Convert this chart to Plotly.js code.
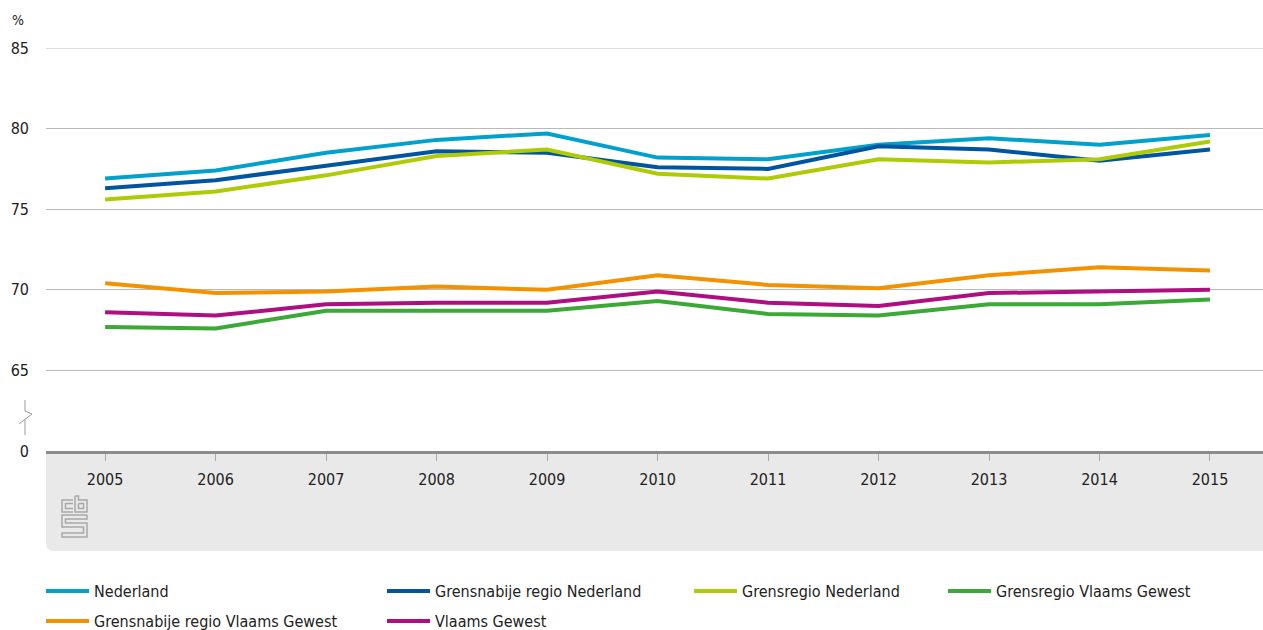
<!DOCTYPE html>
<html>
<head>
<meta charset="utf-8">
<script src="https://cdn.plot.ly/plotly-3.0.1.min.js"></script>
<style>
html,body{margin:0;padding:0;background:#fff;}
#chart{width:1263px;height:630px;}
</style>
</head>
<body>
<div id="chart"></div>
<script>
// ---- data ----
const years = [2005, 2006, 2007, 2008, 2009, 2010, 2011, 2012, 2013, 2014, 2015];
const nederland = [76.9, 77.4, 78.5, 79.3, 79.7, 78.2, 78.1, 79.0, 79.4, 79.0, 79.6];
const grensnabijeNL = [76.3, 76.8, 77.7, 78.6, 78.5, 77.6, 77.5, 78.9, 78.7, 78.0, 78.7];
const grensregioNL = [75.6, 76.1, 77.1, 78.3, 78.7, 77.2, 76.9, 78.1, 77.9, 78.1, 79.2];
const grensregioVG = [67.7, 67.6, 68.7, 68.7, 68.7, 69.3, 68.5, 68.4, 69.1, 69.1, 69.4];
const grensnabijeVG = [70.4, 69.8, 69.9, 70.2, 70.0, 70.9, 70.3, 70.1, 70.9, 71.4, 71.2];
const vlaamsGewest = [68.6, 68.4, 69.1, 69.2, 69.2, 69.9, 69.2, 69.0, 69.8, 69.9, 70.0];
const yTickVals = [60, 65, 70, 75, 80, 85];
const yTickText = ['0', '65', '70', '75', '80', '85'];

const FONT = 'DejaVu Sans Condensed, Liberation Sans Narrow, Open Sans, sans-serif';

// geometry helpers (plot area in pixels)
const L = 46, R = 1263, T = 48, B = 451;
const W = R - L, H = B - T;
const px = x => (x - L) / W;
const py = y => (B - y) / H;
function path(pts) {
  return pts.map((p, i) => (i ? 'L' : 'M') + px(p[0]).toFixed(5) + ',' + py(p[1]).toFixed(5)).join(' ');
}

const series = [
  {name: 'Nederland', y: nederland, color: '#00a1cd', legend: 'legend'},
  {name: 'Grensnabije regio Nederland', y: grensnabijeNL, color: '#0055a0', legend: 'legend2'},
  {name: 'Grensregio Nederland', y: grensregioNL, color: '#afcb05', legend: 'legend3'},
  {name: 'Grensregio Vlaams Gewest', y: grensregioVG, color: '#3aa935', legend: 'legend4'},
  {name: 'Grensnabije regio Vlaams Gewest', y: grensnabijeVG, color: '#f39200', legend: 'legend5'},
  {name: 'Vlaams Gewest', y: vlaamsGewest, color: '#af0e80', legend: 'legend6'}
];

const traces = series.map(s => ({
  type: 'scatter', mode: 'lines', x: years, y: s.y, name: s.name,
  legend: s.legend,
  line: {color: s.color, width: 4},
  hoverinfo: 'x+y+name'
}));

// legend positions (pixel): symbol start x, row center y
const legendPos = {
  legend: [46, 591], legend2: [387, 591], legend3: [694, 591], legend4: [948, 591],
  legend5: [46, 621], legend6: [387, 621]
};

const r = 8;
const shapes = [
  // gray band under the axis
  {type: 'path', xref: 'paper', yref: 'paper', layer: 'below',
   path: 'M0,0 L1,0 L1,' + py(551) + ' L' + px(L + r) + ',' + py(551) + ' Q0,' + py(551) + ' 0,' + py(551 - r) + ' Z',
   fillcolor: '#e9e9e9', line: {width: 0}},
  // top gridline at 85
  {type: 'line', xref: 'paper', yref: 'y', x0: 0, x1: 1, y0: 85, y1: 85, layer: 'below',
   line: {color: '#b9b9b9', width: 1}},
  // axis break symbol
  {type: 'path', xref: 'paper', yref: 'paper',
   path: path([[25, 400], [25, 411], [32, 414], [19, 424]]), line: {color: '#9a9a9a', width: 1}},
  {type: 'path', xref: 'paper', yref: 'paper',
   path: path([[25, 420], [25, 435]]), line: {color: '#9a9a9a', width: 1}},
  // cbs logo
  {type: 'path', xref: 'paper', yref: 'paper',
   path: path([[73, 500], [62, 500], [62, 512], [73, 512]]), line: {color: '#a8a8a8', width: 1.5}},
  {type: 'path', xref: 'paper', yref: 'paper',
   path: path([[73, 503.5], [65.5, 503.5], [65.5, 508.5], [73, 508.5]]), line: {color: '#a8a8a8', width: 1.5}},
  {type: 'path', xref: 'paper', yref: 'paper',
   path: path([[75, 496], [75, 512], [87, 512], [87, 500], [78.5, 500], [78.5, 496], [75, 496]]), line: {color: '#a8a8a8', width: 1.5}},
  {type: 'path', xref: 'paper', yref: 'paper',
   path: path([[78.5, 503.5], [83.5, 503.5], [83.5, 508.5], [78.5, 508.5], [78.5, 503.5]]), line: {color: '#a8a8a8', width: 1.5}},
  {type: 'path', xref: 'paper', yref: 'paper',
   path: path([[87, 515], [62, 515], [62, 527], [83.5, 527], [83.5, 533], [62, 533], [62, 537], [87, 537], [87, 523], [65.5, 523], [65.5, 519], [87, 519], [87, 515]]),
   line: {color: '#a8a8a8', width: 1.5}}
];

const layout = {
  width: 1263, height: 630,
  margin: {l: L, r: 1263 - R, t: T, b: 630 - B, pad: 0, autoexpand: false},
  paper_bgcolor: '#ffffff', plot_bgcolor: 'rgba(0,0,0,0)',
  font: {family: FONT, size: 16, color: '#222222'},
  showlegend: true,
  xaxis: {
    range: [2004.465, 2015.48], tickvals: years, ticktext: years.map(String),
    showgrid: false, zeroline: false,
    showline: true, linecolor: '#8c8c8c', linewidth: 3,
    ticks: 'outside', ticklen: 7, tickwidth: 1, tickcolor: '#aaaaaa',
    ticklabelstandoff: 5,
    tickfont: {family: FONT, size: 16, color: '#222222'},
    fixedrange: true
  },
  yaxis: {
    range: [60, 85], tickvals: yTickVals, ticktext: yTickText,
    showgrid: true, gridcolor: '#b9b9b9', gridwidth: 1,
    zeroline: false, showline: false, ticks: '',
    ticklabelstandoff: 16,
    tickfont: {family: FONT, size: 16, color: '#222222'},
    fixedrange: true
  },
  shapes: shapes,
  annotations: [
    {text: '%', xref: 'paper', yref: 'paper', x: px(10), y: py(20), xanchor: 'left', yanchor: 'middle',
     showarrow: false, font: {family: FONT, size: 14, color: '#222222'}}
  ]
};

Object.keys(legendPos).forEach(k => {
  layout[k] = {
    x: px(legendPos[k][0] - 5), y: py(legendPos[k][1]), xanchor: 'left', yanchor: 'middle',
    orientation: 'v', bgcolor: 'rgba(0,0,0,0)', borderwidth: 0,
    itemwidth: 43, itemclick: false, itemdoubleclick: false,
    font: {family: FONT, size: 16, color: '#222222'}
  };
});

Plotly.newPlot('chart', traces, layout, {displayModeBar: false});
</script>
</body>
</html>
